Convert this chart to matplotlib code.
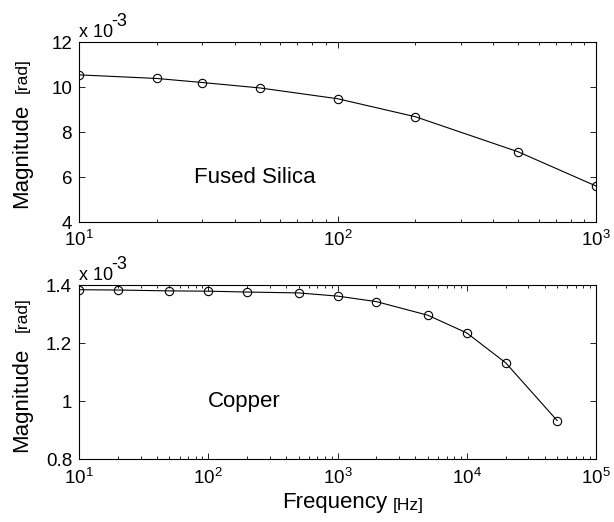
import numpy as np
import matplotlib
matplotlib.use("Agg")
import matplotlib.pyplot as plt
from matplotlib.ticker import LogLocator, NullFormatter

plt.rcParams['font.family'] = ['Liberation Sans', 'DejaVu Sans']
plt.rcParams['mathtext.fontset'] = 'custom'
plt.rcParams['mathtext.rm'] = 'Liberation Sans'
plt.rcParams['mathtext.it'] = 'Liberation Sans'

# Fused silica (magnitude in units of 1e-3 rad)
silica_freq = [10, 20, 30, 50, 100, 200, 500, 1000]
silica_mag = [10.54, 10.38, 10.2, 9.96, 9.48, 8.68, 7.12, 5.6]

# Copper (magnitude in units of 1e-3 rad)
copper_freq = [10, 20, 50, 100, 200, 500, 1000, 2000, 5000, 10000, 20000, 50000]
copper_mag = [1.385, 1.384, 1.381, 1.380, 1.377, 1.374, 1.363, 1.344, 1.297, 1.236, 1.133, 0.934]

silica_yticks = [4, 6, 8, 10, 12]
silica_ylabels = ['4', '6', '8', '10', '12']
copper_yticks = [0.8, 1.0, 1.2, 1.4]
copper_ylabels = ['0.8', '1', '1.2', '1.4']

fig = plt.figure(figsize=(6.14, 5.22), dpi=100)
ax1 = fig.add_axes([0.1287, 0.5747, 0.842, 0.3448])
ax2 = fig.add_axes([0.1287, 0.12, 0.842, 0.3333])


def style(ax, xlim, ylim, yticks, ylabels, mag_off, gap):
    ax.set_xscale('log')
    ax.set_xlim(*xlim)
    ax.set_ylim(*ylim)
    ax.set_yticks(yticks)
    ax.set_yticklabels(ylabels)
    ax.xaxis.set_minor_locator(LogLocator(base=10, subs=np.arange(2, 10), numticks=20))
    ax.xaxis.set_minor_formatter(NullFormatter())
    ax.tick_params(which='both', direction='in', top=True, right=True,
                   labelsize=13.5, width=0.6)
    ax.tick_params(axis='y', pad=5)
    ax.tick_params(axis='x', pad=6)
    ax.tick_params(which='major', length=4)
    ax.tick_params(which='minor', length=2)
    for s in ax.spines.values():
        s.set_linewidth(0.8)
    # "x 10^-3" multiplier above the top-left corner (MATLAB style)
    ax.annotate('x 10', xy=(0, 1), xycoords='axes fraction', xytext=(0, 1),
                textcoords='offset points', fontsize=13, ha='left', va='bottom')
    ax.annotate('-3', xy=(0, 1), xycoords='axes fraction', xytext=(23, 9),
                textcoords='offset points', fontsize=13, ha='left', va='bottom')
    # two-size y label: "Magnitude" + smaller "[rad]"
    mag = ax.annotate('Magnitude', xy=(0, 0.5), xycoords='axes fraction',
                      xytext=(-41, mag_off), textcoords='offset points', rotation=90,
                      fontsize=16, ha='center', va='top')
    ax.annotate('[rad]', xy=(0.5, 1), xycoords=mag, xytext=(0, gap),
                textcoords='offset points', rotation=90,
                fontsize=12.5, ha='center', va='bottom')


style(ax1, (10, 1000), (4, 12), silica_yticks, silica_ylabels, 20, 8)
style(ax2, (10, 1e5), (0.8, 1.4), copper_yticks, copper_ylabels, 18, 11)

ax1.plot(silica_freq, silica_mag, color='black', lw=0.8, marker='o', ms=6,
         mfc='none', mec='black', mew=0.8)
ax2.plot(copper_freq, copper_mag, color='black', lw=0.8, marker='o', ms=6,
         mfc='none', mec='black', mew=0.8)

ax1.text(48, 6.0, 'Fused Silica', fontsize=16, ha='center', va='center')
ax2.text(190, 1.0, 'Copper', fontsize=16, ha='center', va='center')

# x label with smaller units
freq = ax2.text(0.393, -0.19, 'Frequency', transform=ax2.transAxes, fontsize=16,
                ha='left', va='top')
ax2.annotate('[Hz]', xy=(1, 0), xycoords=freq, xytext=(4, 0),
             textcoords='offset points', fontsize=12.5, ha='left', va='bottom')

fig.savefig('out.png', dpi=100)
